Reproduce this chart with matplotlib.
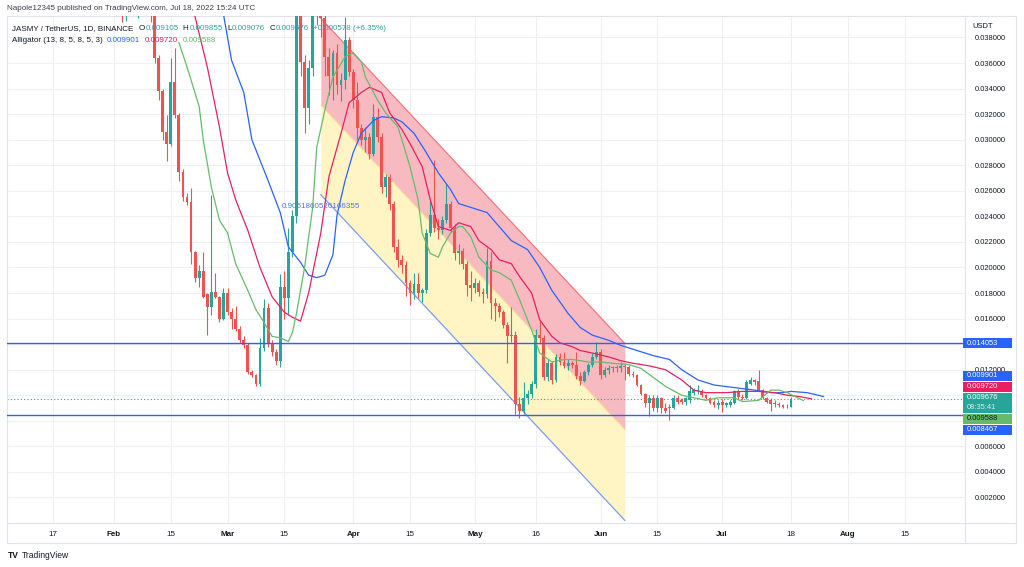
import matplotlib
matplotlib.use("Agg")
import matplotlib.pyplot as plt
import matplotlib.patches as mpatches
import matplotlib.lines as mlines
from matplotlib import font_manager
import numpy as np
import pandas as pd

W, H = 1024, 567
BASE = pd.Timestamp("2022-01-01")


def day(s):
    return float((pd.Timestamp(s) - BASE).days)


# ── data: JASMY/USDT daily candles, 2022-02-01 .. 2022-07-18 ──────────────────
first_day = "2022-02-01"
opens = [
    .0440, .0450, .0420, .0405, .0435, .0450, .0430, .0460, .0440, .0425,
    .0405, .0364, .0338, .0306, .0297, .0345, .0319, .0275, .0255, .0251,
    .0212, .0192, .0197, .0179, .0169, .0181, .0177, .0160,
    .0180, .0165, .0160, .0152, .0143, .0139, .0118, .0116, .0109, .0137,
    .0168, .0141, .0134, .0127, .0185, .0176, .0212, .0240, .0430, .0361,
    .0325, .0356, .0405, .0410, .0395, .0365, .0350, .0368, .0343, .0347, .0378,
    .0353, .0331, .0309, .0300, .0302, .0289, .0318, .0302, .0263, .0271,
    .0250, .0216, .0206, .0202, .0188, .0180, .0187, .0180, .0182, .0227,
    .0241, .0231, .0229, .0237, .0250, .0231, .0211, .0213, .0203, .0186,
    .0184, .0188, .0181, .0179, .0205, .0172, .0170, .0165, .0155, .0146,
    .0147, .0093, .0088, .0098, .0101, .0109, .0147, .0145, .0114, .0125,
    .0112, .0130, .0126, .0123, .0125, .0124, .0115, .0111, .0118, .0124, .0130,
    .0134, .0116, .0120, .0121, .0122, .0121, .0123, .0122, .0117, .0116,
    .0108, .0101, .0094, .0098, .0090, .0098, .0090, .0091, .0090, .0098,
    .0096, .0095, .0096, .0102, .0103, .0103, .0100, .0098, .0095, .0092,
    .0095, .0092, .0092, .0094, .0103, .0099, .0098, .0109, .0112, .0111,
    .0104, .0098, .0096, .0094, .0093, .0092, .00905, .009105,
]
highs = [
    .0460, .0455, .0428, .0440, .0470, .0455, .0480, .0470, .0450, .0440,
    .0410, .0366, .0340, .0319, .0364, .0372, .0321, .0277, .0258, .0262,
    .0213, .0202, .0212, .0180, .0257, .0196, .0178, .0184,
    .0184, .0168, .0170, .0154, .0146, .0141, .0120, .0117, .0145, .0175,
    .0172, .0143, .0136, .0195, .0197, .0231, .0245, .0460, .0450, .0366,
    .0362, .0430, .0440, .0420, .0400, .0372, .0370, .0375, .0352, .0396, .0380,
    .0355, .0345, .0312, .0310, .0305, .0328, .0325, .0305, .0273, .0273,
    .0252, .0222, .0210, .0205, .0190, .0196, .0196, .0184, .0230, .0252,
    .0284, .0238, .0240, .0265, .0252, .0234, .0218, .0215, .0205, .0197,
    .0192, .0190, .0184, .0215, .0212, .0176, .0172, .0167, .0157, .0169,
    .0150, .0099, .0110, .0104, .0111, .0152, .0158, .0147, .0128, .0127,
    .0132, .0133, .0134, .0128, .0127, .0134, .0118, .0120, .0125, .0133, .0142,
    .0136, .0122, .0124, .0123, .0124, .0126, .0125, .0124, .0119, .0117,
    .0109, .0102, .0100, .0100, .0100, .0099, .0094, .0093, .0100, .0100,
    .0098, .0099, .0108, .0106, .0108, .0105, .0101, .0099, .0096, .0096,
    .0097, .0095, .0096, .0104, .0105, .0101, .0112, .0114, .0113, .0120,
    .0105, .0099, .0098, .0096, .0095, .0093, .0093, .009855,
]
lows = [
    .0420, .0400, .0392, .0393, .0425, .0415, .0395, .0420, .0410, .0392,
    .0360, .0331, .0300, .0283, .0295, .0317, .0268, .0252, .0249, .0203,
    .0189, .0185, .0176, .0147, .0163, .0176, .0157, .0159,
    .0163, .0152, .0150, .0141, .0137, .0117, .0114, .0107, .0107, .0135,
    .0138, .0131, .0124, .0122, .0160, .0163, .0208, .0235, .0350, .0305,
    .0312, .0350, .0390, .0380, .0350, .0335, .0331, .0336, .0330, .0340, .0350,
    .0325, .0300, .0296, .0290, .0285, .0287, .0298, .0258, .0255, .0245,
    .0212, .0200, .0196, .0178, .0171, .0175, .0176, .0173, .0180, .0225,
    .0228, .0222, .0226, .0235, .0228, .0206, .0203, .0199, .0178, .0174,
    .0180, .0178, .0172, .0176, .0160, .0158, .0161, .0153, .0125, .0142,
    .0085, .0082, .0085, .0093, .0098, .0106, .0140, .0112, .0111, .0109,
    .0110, .0124, .0121, .0120, .0121, .0113, .0108, .0110, .0116, .0122, .0128,
    .0113, .0114, .0117, .0118, .0118, .0118, .0112, .0115, .0114, .0107,
    .0100, .0091, .0084, .0088, .0087, .0086, .0086, .0081, .0089, .0093,
    .0093, .0092, .0094, .0100, .0101, .0099, .0097, .0093, .0091, .0089,
    .0087, .0091, .0091, .0093, .0097, .0096, .0097, .0108, .0108, .0103,
    .0097, .0094, .0088, .0091, .0091, .0090, .0090, .009076,
]
closes = [
    .0450, .0420, .0405, .0435, .0450, .0430, .0460, .0440, .0425, .0405,
    .0364, .0338, .0306, .0297, .0345, .0319, .0275, .0255, .0251, .0212,
    .0192, .0197, .0177, .0169, .0181, .0177, .0160, .0180,
    .0165, .0160, .0152, .0143, .0139, .0118, .0116, .0109, .0137, .0168,
    .0141, .0134, .0127, .0185, .0176, .0212, .0240, .0430, .0361, .0325,
    .0356, .0405, .0410, .0395, .0365, .0350, .0368, .0343, .0347, .0378, .0353,
    .0331, .0309, .0300, .0302, .0289, .0318, .0302, .0263, .0271, .0250,
    .0216, .0206, .0202, .0188, .0180, .0187, .0180, .0182, .0227, .0241,
    .0231, .0229, .0237, .0250, .0231, .0211, .0213, .0203, .0186, .0184,
    .0188, .0181, .0179, .0205, .0172, .0170, .0165, .0155, .0146, .0147,
    .0093, .0088, .0098, .0101, .0109, .0147, .0145, .0114, .0125, .0112,
    .0130, .0126, .0123, .0125, .0124, .0115, .0111, .0118, .0124, .0130, .0134,
    .0116, .0120, .0121, .0122, .0121, .0123, .0122, .0117, .0116, .0108,
    .0101, .0094, .0098, .0090, .0098, .0090, .0088, .0090, .0098, .0095,
    .0095, .0098, .0103, .0104, .0104, .0100, .0098, .0094, .0092, .0094,
    .0092, .0094, .0095, .0103, .0099, .0098, .0110, .0112, .0110, .0104,
    .0098, .0095, .0093, .0093, .0092, .0091, .00911, .009676,
]
change_text = "+0.000578 (+6.35%)"

# Alligator lines (day = days since 2022-01-01)
jaw_days = [56, 58, 60, 63, 65, 69, 72, 74, 77, 79, 81, 83, 85, 86, 88, 90, 92, 95,
            97, 100, 102, 105, 108, 111, 114, 116, 119, 123, 126, 129, 133, 136, 139,
            143, 146, 149, 153, 156, 160, 164, 168, 171, 175, 179, 184, 189, 193, 196,
            198, 202, 206]
jaw_vals = [.0420, .0398, .0362, .0337, .0300, .0268, .0243, .0216, .0204, .0194,
            .0192, .0194, .0210, .0241, .0268, .0290, .0305, .0315, .0318, .0317,
            .0314, .0305, .0290, .0274, .0261, .0250, .0247, .0243, .0232, .0221,
            .0214, .0200, .0182, .0164, .0153, .0147, .0143, .0139, .0135, .0131,
            .0128, .0120, .0112, .0108, .0106, .0104, .0102, .0102, .0103, .0102,
            .009901]
teeth_days = [50, 54, 57, 59, 61, 64, 67, 70, 73, 75, 77, 79, 82, 84, 87, 89, 92, 94,
              97, 99, 102, 104, 107, 109, 111, 114, 116, 119, 121, 124, 126, 129, 131,
              134, 136, 139, 141, 144, 146, 149, 153, 156, 159, 163, 167, 171, 174,
              177, 182, 186, 190, 194, 197, 200, 203]
teeth_vals = [.0409, .0357, .0310, .0274, .0253, .0229, .0200, .0177, .0165, .0161,
              .0158, .0180, .0227, .0271, .0305, .0329, .0337, .0341, .0337, .0321,
              .0308, .0297, .0279, .0253, .0232, .0229, .0235, .0232, .0221, .0214,
              .0206, .0203, .0193, .0180, .0159, .0146, .0141, .0138, .0135, .0133,
              .0130, .0127, .0125, .0123, .0120, .0112, .0104, .0102, .0102, .0103,
              .0103, .0102, .0100, .0099, .009720]
lips_days = [47, 49, 52, 53, 55, 57, 59, 61, 64, 66, 68, 70, 72, 74, 75, 76, 78, 80,
             81, 83, 85, 88, 90, 92, 93, 96, 98, 101, 102, 104, 106, 107, 109, 111,
             112, 114, 116, 117, 119, 121, 124, 126, 129, 131, 134, 136, 139, 142,
             144, 148, 151, 154, 158, 161, 164, 167, 171, 174, 177, 180, 184, 186,
             190, 193, 195, 197, 201]
lips_vals = [.0376, .0357, .0326, .0300, .0263, .0237, .0227, .0203, .0182, .0167,
             .0157, .0146, .0145, .0142, .0149, .0164, .0200, .0247, .0294, .0323,
             .0349, .0365, .0368, .0361, .0349, .0331, .0321, .0310, .0300, .0279,
             .0253, .0227, .0211, .0208, .0216, .0227, .0232, .0232, .0224, .0208,
             .0198, .0196, .0190, .0175, .0151, .0133, .0126, .0128, .0128, .0126,
             .0126, .0125, .0124, .0121, .0114, .0107, .0100, .0098, .0096, .0098,
             .0098, .0095, .0096, .0104, .0104, .0102, .009588]

# drawings on the chart
chan_dates = ["2022-03-24", "2022-06-07"]
chan_top = [0.0395, 0.014053]
chan_mid = [0.0327, 0.0073]
chan_bot = [0.0257, 0.0002]
chan_label = "0.9051860526166355"
hlines = [0.014053, 0.008467]

tick_dates = ["2022-01-17", "2022-02-01", "2022-02-15", "2022-03-01", "2022-03-15",
              "2022-04-01", "2022-04-15", "2022-05-01", "2022-05-16", "2022-06-01",
              "2022-06-15", "2022-07-01", "2022-07-18", "2022-08-01", "2022-08-15"]
tick_labels = ["17", "Feb", "15", "Mar", "15", "Apr", "15", "May", "16", "Jun",
               "15", "Jul", "18", "Aug", "15"]
months = {"Feb", "Mar", "Apr", "May", "Jun", "Jul", "Aug"}
hidden_price_ticks = [0.014, 0.010, 0.008]   # covered by the price labels

# ── colours / fonts ────────────────────────────────────────────────────────────
TEAL = "#26A69A"
RED = "#EF5350"
BLUE = "#2962FF"
PINKL = "#E91E63"
GREEN = "#66BB6A"
DARK = "#131722"
GRID = "#EEF0F4"
FRAME = "#E0E3EB"
PINK_FILL = "#F8BAC1"
YEL_FILL = "#FFF5C4"

_names = {f.name for f in font_manager.fontManager.ttflist}
if "Liberation Sans Narrow" in _names:
    plt.rcParams["font.family"] = ["Liberation Sans Narrow", "DejaVu Sans"]
    FS = 1.0
else:
    plt.rcParams["font.family"] = ["Liberation Sans", "DejaVu Sans"]
    FS = 0.82

# ── figure ─────────────────────────────────────────────────────────────────────
fig = plt.figure(figsize=(W / 100, H / 100), dpi=100)
fig.patch.set_facecolor("white")
L, R, T, B = 7, 965, 16, 523
ax = fig.add_axes([L / W, 1 - B / H, (R - L) / W, (B - T) / H])
ax.set_xlim(4.6, 240.9)
ax.set_ylim(0.0, 0.03968)

# grid
yt = np.arange(1, 20) * 0.002
xt = [day(d) for d in tick_dates]
for v in yt:
    ax.axhline(v, color=GRID, lw=0.8, zorder=0)
for v in xt:
    ax.axvline(v, color=GRID, lw=0.8, zorder=0)

# channel drawing
cx = [day(d) for d in chan_dates]
ax.fill_between(cx, chan_mid, chan_top, color=PINK_FILL, lw=0, zorder=1)
ax.fill_between(cx, chan_bot, chan_mid, color=YEL_FILL, lw=0, zorder=1)
ax.plot(cx, chan_top, color="#F4767F", lw=0.9, zorder=1.5)
ax.plot(cx, chan_mid, color="#FBE08A", lw=0.7, zorder=1.5)
ax.plot(cx, chan_bot, color="#7C9BF7", lw=0.9, zorder=1.5)
ax.annotate(chan_label, (cx[0], chan_bot[0]), xytext=(0, -6), textcoords="offset points",
            ha="center", va="top", fontsize=7 * FS, color="#4A72F5", zorder=7)

# candles
x = np.arange(len(opens)) + day(first_day)
o, hi, lo, c = (np.array(a) for a in (opens, highs, lows, closes))
col = np.where(c >= o, TEAL, RED)
ax.vlines(x, lo, hi, colors=col, lw=0.8, zorder=3)
ax.bar(x, np.maximum(np.abs(c - o), 0.00006), bottom=np.minimum(o, c), width=0.7,
       color=col, lw=0, zorder=4)

# alligator
ax.plot(jaw_days, jaw_vals, color=BLUE, lw=0.9, zorder=5)
ax.plot(teeth_days, teeth_vals, color=PINKL, lw=0.9, zorder=5)
ax.plot(lips_days, lips_vals, color=GREEN, lw=0.9, zorder=5)

# horizontal lines + last price
for v in hlines:
    ax.axhline(v, color=BLUE, lw=1.0, zorder=6)
ax.axhline(closes[-1], color=TEAL, lw=0.8, ls=(0, (1, 2)), zorder=2)

# axes styling
for s in ax.spines.values():
    s.set_color(FRAME)
    s.set_linewidth(0.8)
ax.yaxis.tick_right()
ax.set_yticks(yt)
ax.set_yticklabels(["" if any(abs(v - h) < 1e-9 for h in hidden_price_ticks)
                    else f"{v:.6f}" for v in yt])
ax.tick_params(axis="y", length=0, pad=7, labelsize=6.6 * FS, labelcolor=DARK)
ax.set_xticks(xt)
ax.set_xticklabels(tick_labels)
ax.tick_params(axis="x", length=0, pad=5.5, labelsize=7 * FS, labelcolor=DARK)
for t in ax.get_xticklabels():
    if t.get_text() in months:
        t.set_fontweight("bold")


def fx(px):
    return px / W


def fy(py):
    return 1 - py / H


# outer frame
for (x0, y0, x1, y1) in [(1016, 16, 1016, 543), (7, 543, 1016, 543), (965, 16, 1016, 16),
                         (7, 523, 7, 543), (965, 523, 1016, 523), (965, 523, 965, 543)]:
    fig.add_artist(mlines.Line2D([fx(x0), fx(x1)], [fy(y0), fy(y1)], color=FRAME, lw=0.8))

fig.text(fx(972), fy(26), "USDT", fontsize=6.6 * FS, color=DARK, va="center",
         bbox=dict(boxstyle="square,pad=0.25", fc="white", ec="none"))

# ── price-axis labels (stacked like TradingView) ──────────────────────────────
boxes = [
    (0.009901, BLUE, "white", None),
    (0.009720, PINKL, "white", None),
    (closes[-1], TEAL, "white", "08:35:41"),
    (0.009588, GREEN, DARK, None),
    (0.008467, BLUE, "white", None),
]
fig.canvas.draw()
to_px = lambda v: H - ax.transData.transform((10, v))[1]
tops = [to_px(b[0]) - 5 for b in boxes]
hts = [20 if b[3] else 10 for b in boxes]
gap = 1.0


def gtop(m):
    off, vals = 0, []
    for j in m:
        vals.append(tops[j] - off)
        off += hts[j] + gap
    return np.mean(vals)


groups = []
for i in range(len(boxes)):
    groups.append([i])
    while len(groups) > 1:
        a, b = groups[-2], groups[-1]
        if gtop(a) + sum(hts[j] + gap for j in a) > gtop(b):
            groups[-2:] = [a + b]
        else:
            break
placed = {}
for m in groups:
    t0 = gtop(m)
    for j in m:
        placed[j] = t0
        t0 += hts[j] + gap


def price_box(top, h, fc, tc, txt, sub=None):
    fig.add_artist(mpatches.Rectangle((fx(963), fy(top + h)), 49 / W, h / H,
                                      fc=fc, ec="none", zorder=10))
    fig.text(fx(967), fy(top + 5), txt, fontsize=6.6 * FS, color=tc, va="center", zorder=11)
    if sub:
        fig.text(fx(967), fy(top + 15), sub, fontsize=6.6 * FS, color="#D8F1EE",
                 va="center", zorder=11)


price_box(to_px(hlines[0]) - 5, 10, BLUE, "white", f"{hlines[0]:.6f}")
for j, (v, fc, tc, sub) in enumerate(boxes):
    price_box(placed[j], hts[j], fc, tc, f"{v:.6f}", sub)

# ── header, legend, footer ─────────────────────────────────────────────────────
fig.text(fx(7), fy(9), "Napole12345 published on TradingView.com, Jul 18, 2022 15:24 UTC",
         fontsize=7 * FS, color="#3B3F4A", va="center")

rend = fig.canvas.get_renderer()


def draw_runs(x_px, y_px, runs):
    xp = x_px
    for g, s, colr in runs:
        xp += g
        t = fig.text(fx(xp), fy(y_px), s, fontsize=7 * FS, color=colr, va="center", zorder=12)
        xp += t.get_window_extent(renderer=rend).width


draw_runs(12, 29, [(0, "JASMY / TetherUS, 1D, BINANCE", DARK),
                   (5, "O", DARK), (1, f"{opens[-1]:.6f}", TEAL),
                   (4, "H", DARK), (1, f"{highs[-1]:.6f}", TEAL),
                   (4, "L", DARK), (1, f"{lows[-1]:.6f}", TEAL),
                   (4, "C", DARK), (1, f"{closes[-1]:.6f}", TEAL),
                   (4, change_text, TEAL)])
draw_runs(12, 41, [(0, "Alligator (13, 8, 5, 8, 5, 3)", DARK),
                   (4, f"{jaw_vals[-1]:.6f}", BLUE),
                   (5, f"{teeth_vals[-1]:.6f}", PINKL),
                   (5, f"{lips_vals[-1]:.6f}", GREEN)])

fig.text(fx(8), fy(555), "TV", fontsize=7.5 * FS, fontweight="bold", color=DARK, va="center")
fig.text(fx(22), fy(555), "TradingView", fontsize=7.5 * FS, color=DARK, va="center")

fig.savefig("out.png", dpi=100, facecolor="white")
plt.close(fig)
